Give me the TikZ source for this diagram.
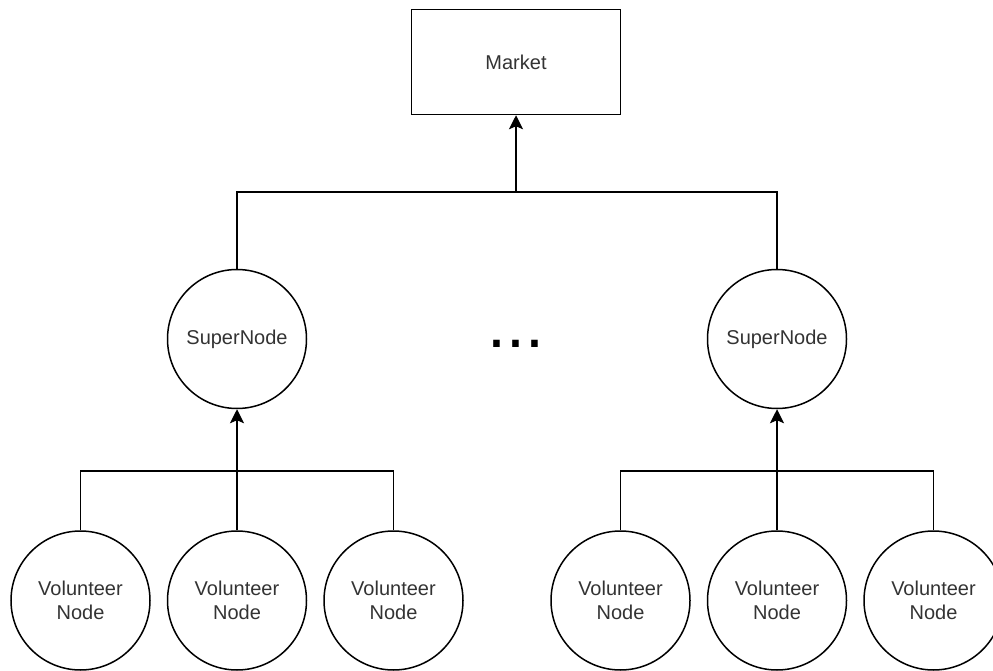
\documentclass[tikz,border=0pt]{standalone}
\usepackage{fontspec}
\setmainfont{Liberation Sans}
\usepackage{xcolor}
\definecolor{cLine}{HTML}{000000}
\definecolor{cText}{HTML}{333333}
\usepackage{tikz}
\usetikzlibrary{positioning,arrows.meta}
\tikzset{
  node-box/.style={draw=cLine,line width=1.5pt,inner sep=0pt,
    minimum width=209pt,minimum height=105pt,align=center,
    text=cText,font=\fontsize{20}{24}\selectfont},
  node-state/.style={draw=cLine,line width=1.5pt,circle,inner sep=0pt,
    minimum size=139pt,align=center,
    text=cText,font=\fontsize{20}{24}\selectfont},
  arrow/.style={-{Stealth[length=14pt,width=14pt,inset=3pt]},line width=1.5pt,draw=cLine},
  link/.style={line width=1.5pt,draw=cLine},
}

\begin{document}
\begin{tikzpicture}[x=1pt,y=-1pt]
  \useasboundingbox (0,0) rectangle (993,671);
  \node[node-box] (mkt) at (516,62) {Market};
  \node[node-state] (sn-l) at (237,339) {SuperNode};
  \node[node-state] (sn-r) at (777,339) {SuperNode};
  \node[anchor=base,inner sep=0pt,font=\fontsize{68}{68}\selectfont] (dots) at (516,347) {...};
  % volunteers, left group
  \node[node-state,below=121pt of sn-l] (vl-2) {Volunteer\\Node};
  \node[node-state,left=16pt of vl-2]   (vl-1) {Volunteer\\Node};
  \node[node-state,right=16pt of vl-2]  (vl-3) {Volunteer\\Node};
  % volunteers, right group
  \node[node-state,below=121pt of sn-r] (vr-2) {Volunteer\\Node};
  \node[node-state,left=16pt of vr-2]   (vr-1) {Volunteer\\Node};
  \node[node-state,right=16pt of vr-2]  (vr-3) {Volunteer\\Node};
  \coordinate (bus-t) at (516,192);
  \coordinate (bus-l) at (237,471);
  \coordinate (bus-r) at (777,471);
  \draw[link] (sn-l.north) |- (bus-t) -| (sn-r.north);
  \draw[arrow] (bus-t) -- (mkt.south);
  \draw[link] (vl-1.north) |- (bus-l) -| (vl-3.north);
  \draw[arrow] (vl-2.north) -- (sn-l.south);
  \draw[link] (vr-1.north) |- (bus-r) -| (vr-3.north);
  \draw[arrow] (vr-2.north) -- (sn-r.south);
\end{tikzpicture}
\end{document}
